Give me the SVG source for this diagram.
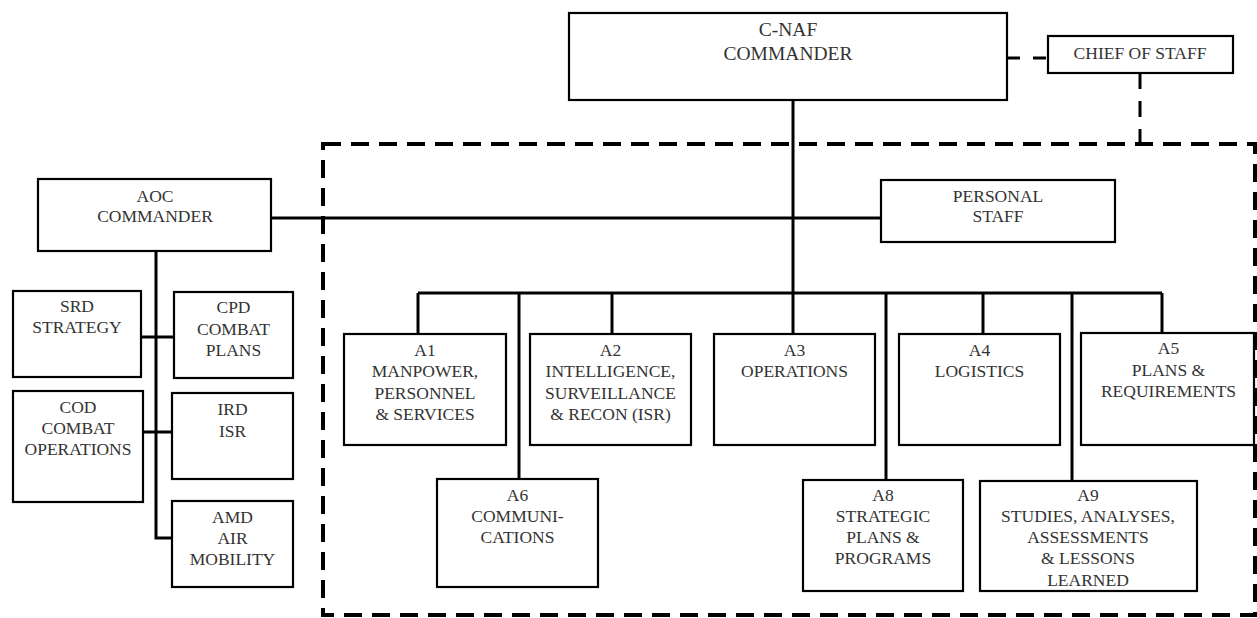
<svg xmlns="http://www.w3.org/2000/svg" width="1257" height="618" viewBox="0 0 1257 618">
<style>
.box{fill:#fff;stroke:#000;stroke-width:2.2}
.ln{stroke:#000;stroke-width:3;fill:none}
.dash{stroke:#000;stroke-width:4;fill:none;stroke-dasharray:18 10}
text{font-family:"Liberation Serif","Times New Roman",serif;font-size:17.5px;fill:#333;text-anchor:middle}
.big{font-size:19.5px}
</style>
<rect width="1257" height="618" fill="#fff"/>
<g id="boundary">
<rect x="323" y="144" width="932" height="471" class="dash"/>
</g>
<g id="connectors">
<line x1="1007" y1="58" x2="1048" y2="58" class="ln" stroke-dasharray="13 13"/>
<line x1="1140" y1="73" x2="1140" y2="146" class="ln" stroke-dasharray="16 12"/>
<line x1="793" y1="100" x2="793" y2="334" class="ln"/>
<line x1="271" y1="218" x2="881" y2="218" class="ln"/>
<line x1="418" y1="293" x2="1162" y2="293" class="ln"/>
<line x1="418" y1="293" x2="418" y2="334" class="ln"/>
<line x1="519" y1="293" x2="519" y2="479" class="ln"/>
<line x1="612" y1="293" x2="612" y2="334" class="ln"/>
<line x1="886" y1="293" x2="886" y2="480" class="ln"/>
<line x1="983" y1="293" x2="983" y2="334" class="ln"/>
<line x1="1072" y1="293" x2="1072" y2="481" class="ln"/>
<line x1="1162" y1="293" x2="1162" y2="333" class="ln"/>
<polyline points="156,251 156,538 172,538" class="ln"/>
<line x1="141" y1="337" x2="174" y2="337" class="ln"/>
<line x1="143" y1="432" x2="172" y2="432" class="ln"/>
</g>
<g id="cnaf">
<rect x="569" y="13" width="438" height="87" class="box"/>
<text class="big" x="788" y="36">C-NAF</text>
<text class="big" x="788" y="60">COMMANDER</text>
</g>
<g id="chief">
<rect x="1048" y="36" width="185" height="37" class="box"/>
<text x="1140" y="59">CHIEF OF STAFF</text>
</g>
<g id="aoc">
<rect x="38" y="179" width="233" height="72" class="box"/>
<text x="155" y="202">AOC</text>
<text x="155" y="222">COMMANDER</text>
</g>
<g id="personal">
<rect x="881" y="180" width="234" height="62" class="box"/>
<text x="998" y="202">PERSONAL</text>
<text x="998" y="222">STAFF</text>
</g>
<g id="srd">
<rect x="13" y="291" width="128" height="86" class="box"/>
<text x="77" y="312">SRD</text>
<text x="77" y="333">STRATEGY</text>
</g>
<g id="cpd">
<rect x="174" y="292" width="119" height="86" class="box"/>
<text x="233.5" y="313">CPD</text>
<text x="233.5" y="335">COMBAT</text>
<text x="233.5" y="356">PLANS</text>
</g>
<g id="cod">
<rect x="13" y="391" width="130" height="111" class="box"/>
<text x="78" y="413">COD</text>
<text x="78" y="434">COMBAT</text>
<text x="78" y="455">OPERATIONS</text>
</g>
<g id="ird">
<rect x="172" y="393" width="121" height="86" class="box"/>
<text x="232.5" y="415">IRD</text>
<text x="232.5" y="437">ISR</text>
</g>
<g id="amd">
<rect x="172" y="501" width="121" height="86" class="box"/>
<text x="232.5" y="523">AMD</text>
<text x="232.5" y="544">AIR</text>
<text x="232.5" y="565">MOBILITY</text>
</g>
<g id="a1">
<rect x="344" y="334" width="162" height="111" class="box"/>
<text x="425" y="356">A1</text>
<text x="425" y="377">MANPOWER,</text>
<text x="425" y="399">PERSONNEL</text>
<text x="425" y="420">&amp; SERVICES</text>
</g>
<g id="a2">
<rect x="530" y="334" width="161" height="111" class="box"/>
<text x="610.5" y="356">A2</text>
<text x="610.5" y="377">INTELLIGENCE,</text>
<text x="610.5" y="399">SURVEILLANCE</text>
<text x="610.5" y="420">&amp; RECON (ISR)</text>
</g>
<g id="a3">
<rect x="714" y="334" width="161" height="111" class="box"/>
<text x="794.5" y="356">A3</text>
<text x="794.5" y="377">OPERATIONS</text>
</g>
<g id="a4">
<rect x="899" y="334" width="161" height="111" class="box"/>
<text x="979.5" y="356">A4</text>
<text x="979.5" y="377">LOGISTICS</text>
</g>
<g id="a5">
<rect x="1081" y="333" width="173" height="112" class="box"/>
<text x="1168.5" y="354">A5</text>
<text x="1168.5" y="376">PLANS &amp;</text>
<text x="1168.5" y="397">REQUIREMENTS</text>
</g>
<g id="a6">
<rect x="437" y="479" width="161" height="108" class="box"/>
<text x="517.5" y="501">A6</text>
<text x="517.5" y="522">COMMUNI-</text>
<text x="517.5" y="543">CATIONS</text>
</g>
<g id="a8">
<rect x="803" y="480" width="160" height="111" class="box"/>
<text x="883" y="501">A8</text>
<text x="883" y="522">STRATEGIC</text>
<text x="883" y="543">PLANS &amp;</text>
<text x="883" y="564">PROGRAMS</text>
</g>
<g id="a9">
<rect x="980" y="481" width="217" height="110" class="box"/>
<text x="1088" y="501">A9</text>
<text x="1088" y="522">STUDIES, ANALYSES,</text>
<text x="1088" y="543">ASSESSMENTS</text>
<text x="1088" y="564">&amp; LESSONS</text>
<text x="1088" y="586">LEARNED</text>
</g>
</svg>
